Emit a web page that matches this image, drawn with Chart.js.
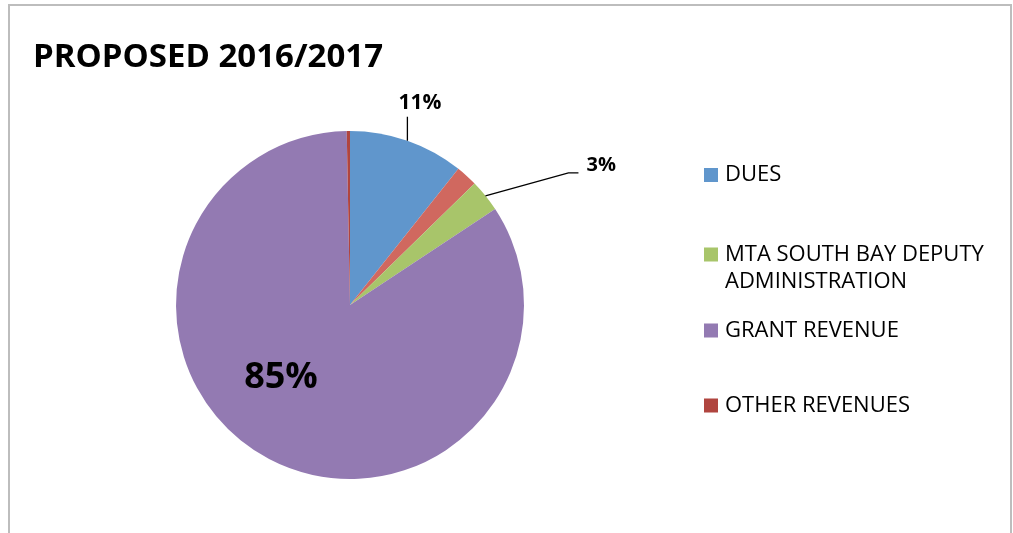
<!DOCTYPE html>
<html>
<head>
<meta charset="utf-8">
<script src="https://cdn.jsdelivr.net/npm/chart.js@4.4.0/dist/chart.umd.min.js"></script>
<style>
    html, body { margin: 0; padding: 0; background: #fff; }
    #wrap { position: relative; width: 1013px; height: 533px; }
</style>
</head>
<body>
<div id="wrap"><canvas id="pie_revenue" width="1013" height="533"></canvas></div>
<script>
// 데이터
const chartTitle = 'PROPOSED 2016/2017';
const categories = ['DUES', '', 'MTA SOUTH BAY DEPUTY ADMINISTRATION', 'GRANT REVENUE', 'OTHER REVENUES'];
const legendLines = [['DUES'], [], ['MTA SOUTH BAY DEPUTY', 'ADMINISTRATION'], ['GRANT REVENUE'], ['OTHER REVENUES']];
const shares = [10.7, 2.0, 3.0, 84.0, 0.3];
const pctLabels = ['11%', '', '3%', '85%', ''];
const sliceColors = ['#6096cc', '#d0685f', '#a8c56a', '#937ab2', '#b0453f'];

const FONT = '"Open Sans", "Liberation Sans", sans-serif';

/**
 * 테두리 + 제목 + 범례
 */
const framePlugin = {
    id: 'frame',
    beforeDraw(chart) {
        const ctx = chart.ctx;
        ctx.save();
        ctx.fillStyle = '#fff';
        ctx.fillRect(0, 0, chart.width, chart.height);
        ctx.strokeStyle = '#bdbdbd';
        ctx.lineWidth = 2;
        ctx.strokeRect(9, 5, 1002, 600);
        ctx.restore();
    },
    afterDraw(chart) {
        const ctx = chart.ctx;
        ctx.save();
        ctx.fillStyle = '#000';
        ctx.textBaseline = 'middle';
        ctx.textAlign = 'left';
        ctx.font = 'bold 33px ' + FONT;
        ctx.fillText(chartTitle, 33, 58);

        // 범례 (이름 없는 항목은 제외)
        const rowY = [175, null, 254.5, 330.5, 405.5];
        ctx.font = '22px ' + FONT;
        legendLines.forEach((lines, i) => {
            if (!lines.length) return;
            const y = rowY[i];
            ctx.fillStyle = sliceColors[i];
            ctx.fillRect(704, y - 7, 14, 14);
            ctx.fillStyle = '#000';
            lines.forEach((t, k) => ctx.fillText(t, 725, y + k * 27));
        });
        ctx.restore();
    }
};

/**
 * 퍼센트 라벨 + 지시선
 */
const labelPlugin = {
    id: 'pctLabels',
    afterDatasetsDraw(chart) {
        const ctx = chart.ctx;
        const arcs = chart.getDatasetMeta(0).data;
        ctx.save();
        ctx.fillStyle = '#000';
        ctx.strokeStyle = '#000';
        ctx.lineWidth = 1.3;
        ctx.textBaseline = 'middle';
        arcs.forEach((arc, i) => {
            const text = pctLabels[i];
            if (!text) return;
            const mid = (arc.startAngle + arc.endAngle) / 2;
            const px = arc.x + Math.cos(mid) * arc.outerRadius;
            const py = arc.y + Math.sin(mid) * arc.outerRadius;
            if (i === 0) {
                ctx.beginPath();
                ctx.moveTo(px, py);
                ctx.lineTo(px, py - 24);
                ctx.stroke();
                ctx.font = 'bold 21px ' + FONT;
                ctx.textAlign = 'center';
                ctx.fillText(text, px + 12.5, py - 38);
            } else if (i === 2) {
                ctx.beginPath();
                ctx.moveTo(px, py);
                ctx.lineTo(px + 83, py - 23);
                ctx.lineTo(px + 93, py - 23);
                ctx.stroke();
                ctx.font = 'bold 20px ' + FONT;
                ctx.textAlign = 'left';
                ctx.fillText(text, px + 101, py - 30);
            } else {
                ctx.font = 'bold 36px ' + FONT;
                ctx.textAlign = 'center';
                ctx.fillText(text, arc.x - 69, arc.y + 73);
            }
        });
        ctx.restore();
    }
};

const revenuePie = new Chart(document.getElementById('pie_revenue'), {
    type: 'pie',
    data: {
        labels: categories,
        datasets: [{
            data: shares,
            backgroundColor: sliceColors,
            borderWidth: 0
        }]
    },
    options: {
        responsive: false,
        animation: false,
        events: [],
        layout: {
            padding: { left: 176, right: 489, top: 131, bottom: 54 }
        },
        plugins: {
            legend: { display: false },
            tooltip: { enabled: false }
        }
    },
    plugins: [framePlugin, labelPlugin]
});
</script>
</body>
</html>
